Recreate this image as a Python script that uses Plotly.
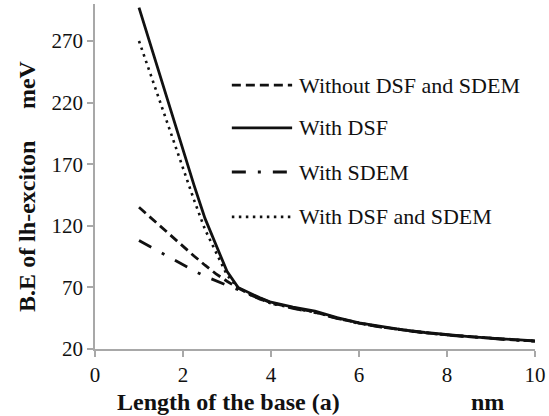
import plotly.graph_objects as go

# Base length a (nm)
base_length = [1, 1.25, 1.5, 1.75, 2, 2.25, 2.5, 2.75, 3, 3.25, 3.5, 3.75,
               4, 4.5, 5, 5.5, 6, 6.5, 7, 7.5, 8, 8.5, 9, 9.5, 10]

# Binding energy of the lh-exciton (meV)
be_without = [135, 127, 119, 111, 103, 95.5, 88, 81, 75, 69.5, 65, 61,
              57.5, 53.5, 50, 45, 41, 37.8, 35.3, 33.2, 31.4, 29.9, 28.6, 27.4, 26.4]
be_dsf = [297, 268, 239, 210, 181, 153, 126, 105, 83, 70, 65.5, 61.5,
          58, 54, 50.8, 45.5, 41.3, 38.2, 35.6, 33.4, 31.6, 30.1, 28.8, 27.6, 26.6]
be_sdem = [108, 103, 98, 93, 88, 83.5, 79, 75.5, 72, 68, 64.5, 60.5,
           57, 53, 49.6, 44.8, 40.8, 37.7, 35.2, 33.1, 31.3, 29.8, 28.5, 27.3, 26.3]
be_dsf_sdem = [270, 244, 218, 192, 166, 141, 117, 98, 80, 70, 64.5, 60.5,
               57, 53.2, 49.8, 45.2, 41.1, 38, 35.4, 33.3, 31.5, 30, 28.7, 27.5, 26.5]

x_ticks = [0, 2, 4, 6, 8, 10]
y_ticks = [20, 70, 120, 170, 220, 270]

names = ["Without DSF and SDEM", "With DSF", "With SDEM", "With DSF and SDEM"]
series = [be_without, be_dsf, be_sdem, be_dsf_sdem]
dashes = ["9px,5px", "solid", "14px,12px,3px,12px", "2.5px,4.5px"]
widths = [2.8, 2.8, 2.8, 2.6]

ink = "#111111"
axis_grey = "#a8a8a8"

fig = go.Figure()
for name, ys, dash, w in zip(names, series, dashes, widths):
    fig.add_trace(go.Scatter(
        x=base_length, y=ys, mode="lines", name=name,
        line=dict(color=ink, width=w, dash=dash),
        showlegend=False,
    ))

# Legend: sample line plus label for each series
legend_rows = [0.765, 0.641, 0.513, 0.383]
for name, dash, w, yr in zip(names, dashes, widths, legend_rows):
    fig.add_shape(type="line", xref="paper", yref="paper",
                  x0=0.311, x1=0.448, y0=yr, y1=yr,
                  line=dict(color=ink, width=w, dash=dash))
    fig.add_annotation(xref="paper", yref="paper", x=0.458, y=yr,
                       text=name, showarrow=False, xanchor="left", yanchor="middle",
                       font=dict(family="Liberation Serif", size=22, color=ink))

# Axis titles
title_font = dict(family="Liberation Serif", size=24, color=ink)
fig.add_annotation(xref="paper", yref="paper", x=-0.1545, y=0.354,
                   text="<b>B.E of lh-exciton</b>", textangle=-90, showarrow=False,
                   xanchor="center", yanchor="middle", font=title_font)
fig.add_annotation(xref="paper", yref="paper", x=-0.1545, y=0.765,
                   text="<b>meV</b>", textangle=-90, showarrow=False,
                   xanchor="center", yanchor="middle", font=title_font)
fig.add_annotation(xref="paper", yref="paper", x=0.303, y=-0.154,
                   text="<b>Length of the base (a)</b>", showarrow=False,
                   xanchor="center", yanchor="middle", font=title_font)
fig.add_annotation(xref="paper", yref="paper", x=0.893, y=-0.154,
                   text="<b>nm</b>", showarrow=False,
                   xanchor="center", yanchor="middle", font=title_font)

fig.update_layout(
    width=549, height=416,
    margin=dict(l=95, r=14, t=4, b=67),
    plot_bgcolor="white", paper_bgcolor="white",
    font=dict(family="Liberation Serif", size=21, color=ink),
)
fig.update_xaxes(
    range=[0, 10], tickvals=x_ticks,
    showgrid=False, zeroline=False, showline=True, linecolor=axis_grey, linewidth=1.5,
    ticks="outside", ticklen=6, tickwidth=1.5, tickcolor=axis_grey,
    tickfont=dict(family="Liberation Serif", size=21, color=ink),
)
fig.update_yaxes(
    range=[20, 300], tickvals=y_ticks,
    showgrid=False, zeroline=False, showline=True, linecolor=axis_grey, linewidth=1.5,
    ticks="outside", ticklen=6, tickwidth=1.5, tickcolor=axis_grey,
    tickfont=dict(family="Liberation Serif", size=21, color=ink),
)

fig.write_html("out.html")
